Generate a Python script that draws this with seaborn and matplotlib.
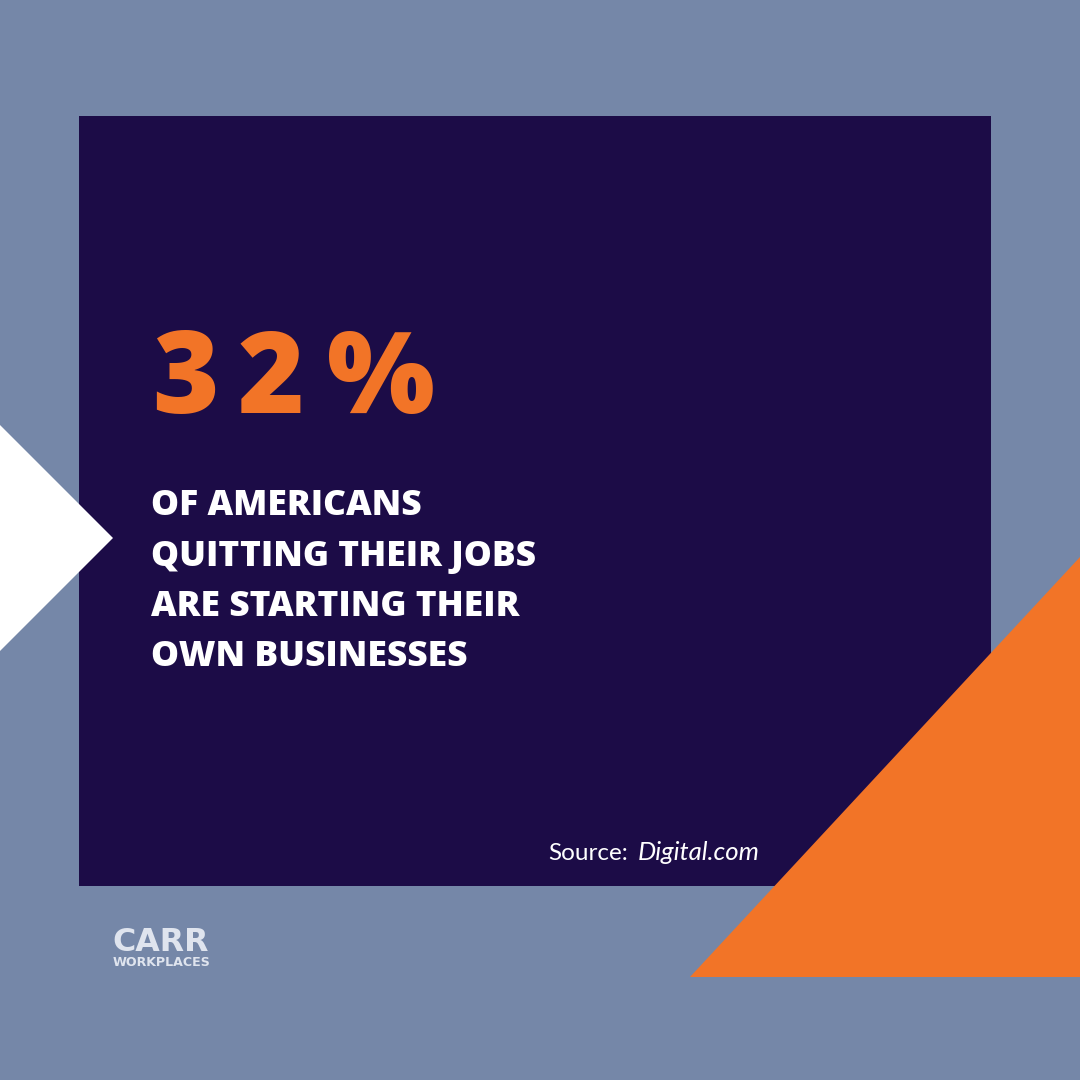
import matplotlib
matplotlib.use("Agg")
import matplotlib.pyplot as plt
import seaborn as sns

# ---- content ----
stat_value = 32
stat_chars = ["3", "2", "%"]
body_lines = ["OF AMERICANS", "QUITTING THEIR JOBS", "ARE STARTING THEIR", "OWN BUSINESSES"]
source_label = "Source:"
source_name = "Digital.com"
logo_main = "CARR"
logo_sub = "WORKPLACES"

# ---- colours ----
bg = "#7587a8"
panel = "#1c0c47"
orange = "#f27427"
white = "#ffffff"
logo_col = "#dfe4ee"

sns.set_theme(style="white")
plt.rcParams["font.family"] = ["Open Sans", "DejaVu Sans"]

fig = plt.figure(figsize=(10.8, 10.8), dpi=100, facecolor=bg)
ax = fig.add_axes([0, 0, 1, 1])
ax.set_xlim(0, 1080)
ax.set_ylim(1080, 0)
ax.axis("off")
ax.set_facecolor(bg)

# panel
ax.fill([79, 991, 991, 79], [116, 116, 886, 886], color=panel, zorder=1, lw=0)
# white triangle
ax.fill([0, 113, 0], [425, 538, 651], color=white, zorder=2, lw=0)
# orange triangle
ax.fill([690, 1080, 1080], [977, 977, 557], color=orange, zorder=2, lw=0)

# big stat
xs = [152, 238, 327]
for ch, x in zip(stat_chars, xs):
    ax.text(x, 413, ch, color=orange, fontsize=82, fontweight="heavy",
            ha="left", va="baseline", zorder=3)

# body
for i, line in enumerate(body_lines):
    ax.text(151, 515 + i * 50.5, line, color=white, fontsize=25.5, fontweight="heavy",
            ha="left", va="baseline", zorder=3)

# source
ax.text(548, 860, source_label, color=white, fontsize=17.5, family=["Lato", "DejaVu Sans"],
        ha="left", va="baseline", zorder=3)
ax.text(638, 860, source_name, color=white, fontsize=18.5, style="italic", family=["Lato", "DejaVu Sans"],
        ha="left", va="baseline", zorder=3)

# logo
ax.text(112, 951, logo_main, color=logo_col, fontsize=22.8, fontweight="bold",
        family=["DejaVu Sans"], ha="left", va="baseline", zorder=3)
ax.text(113, 966, logo_sub, color=logo_col, fontsize=9.1, fontweight="bold",
        family=["DejaVu Sans"], ha="left", va="baseline", zorder=3)

fig.savefig("out.png", dpi=100, facecolor=bg)
